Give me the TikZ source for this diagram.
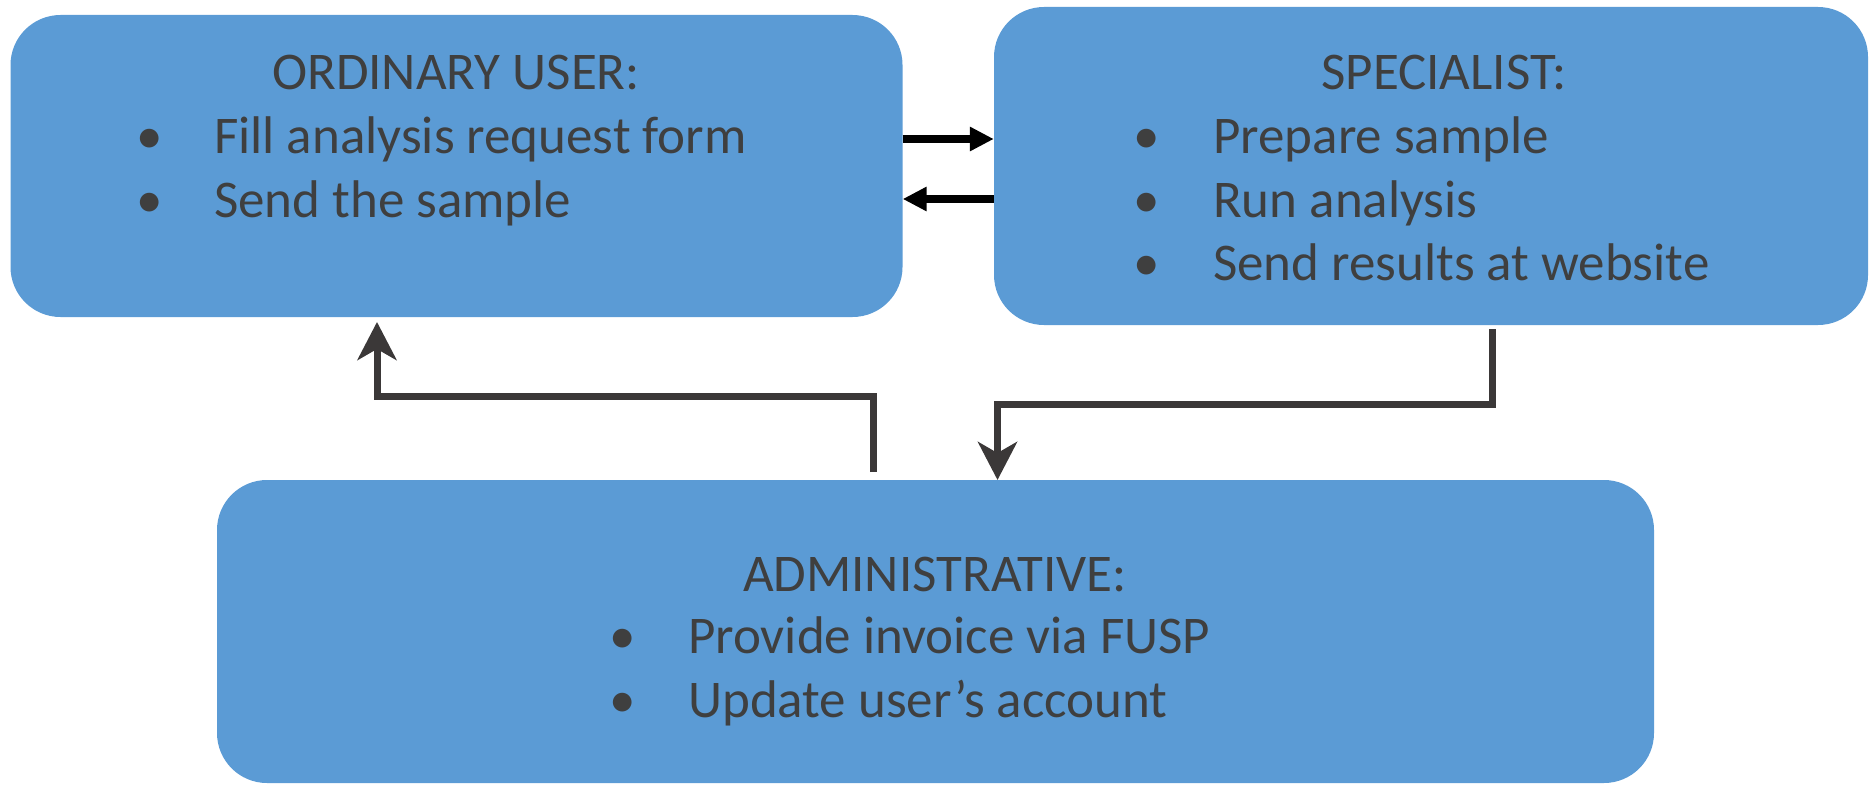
\documentclass[tikz,border=0pt]{standalone}
\usepackage{fontspec}
\setmainfont{Carlito}
\usetikzlibrary{arrows.meta}
\definecolor{boxblue}{HTML}{5B9BD5}
\definecolor{txt}{HTML}{3F3F3F}
\definecolor{conn}{HTML}{3B3838}
\tikzset{
  box/.style={fill=boxblue, draw=none, rounded corners=50pt, inner sep=0pt},
  lbl/.style={text=txt, inner sep=0pt, font=\fontsize{53}{64}\selectfont},
  toparrow/.style={draw=black, line width=8pt, -{Triangle[length=24pt,width=23pt]}},
  elbow/.style={draw=conn, line width=7pt, -{Stealth[length=38pt,width=39pt,inset=11pt]}}
}
\begin{document}
\begin{tikzpicture}[x=1pt,y=-1pt]
\useasboundingbox (0,0) rectangle (1873,784);
% boxes
\node[box, minimum width=892pt, minimum height=302pt] (ord) at (456.5,166) {};
\node[box, minimum width=874pt, minimum height=318pt] (spec) at (1431,166) {};
\node[box, minimum width=1437pt, minimum height=303pt] (adm) at (935.5,631.5) {};
% ordinary user text
\node[lbl, anchor=base] (ordt) at (456,89) {ORDINARY USER:};
\node[lbl, anchor=base] (ordb1) at (150,153) {•};
\node[lbl, anchor=base west] (ord1) at (214,153) {Fill analysis request form};
\node[lbl, anchor=base] (ordb2) at (150,217) {•};
\node[lbl, anchor=base west] (ord2) at (214,217) {Send the sample};
% specialist text
\node[lbl, anchor=base] (spect) at (1444,89) {SPECIALIST:};
\node[lbl, anchor=base] (specb1) at (1147,153) {•};
\node[lbl, anchor=base west] (spec1) at (1213,153) {Prepare sample};
\node[lbl, anchor=base] (specb2) at (1147,217) {•};
\node[lbl, anchor=base west] (spec2) at (1213,217) {Run analysis};
\node[lbl, anchor=base] (specb3) at (1147,280) {•};
\node[lbl, anchor=base west] (spec3) at (1213,280) {Send results at website};
% administrative text
\node[lbl, anchor=base] (admt) at (935,591) {ADMINISTRATIVE:};
\node[lbl, anchor=base] (admb1) at (623,653) {•};
\node[lbl, anchor=base west] (adm1) at (688,653) {Provide invoice via FUSP};
\node[lbl, anchor=base] (admb2) at (623,717) {•};
\node[lbl, anchor=base west] (adm2) at (688,717) {Update user’s account};
% connectors
\coordinate (a1) at (873,472);
\coordinate (a2) at (377,322);
\draw[elbow] (a1) |- (377,396) -- (a2);
\coordinate (s1) at (1492,329);
\draw[elbow] (s1) |- (997.5,404) -- (997.5,480);
\draw[toparrow] (ord.east |- 0,139) -- (spec.west |- 0,139);
\draw[toparrow] (spec.west |- 0,199) -- (ord.east |- 0,199);
\end{tikzpicture}
\end{document}
